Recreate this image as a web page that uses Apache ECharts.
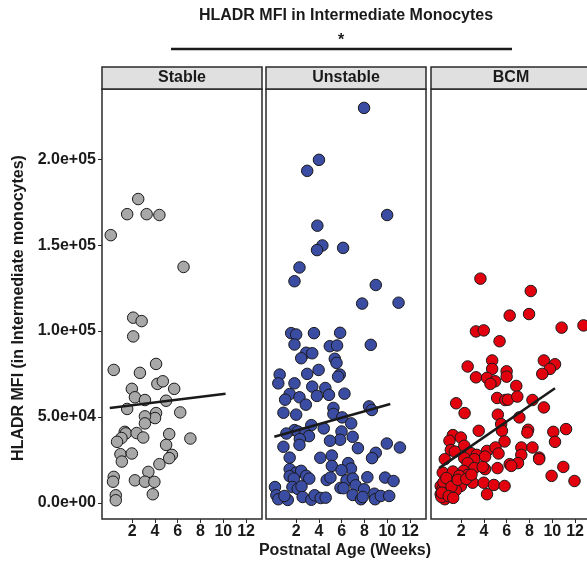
<!DOCTYPE html>
<html>
<head>
<meta charset="utf-8">
<script src="https://cdn.jsdelivr.net/npm/echarts@6/dist/echarts.min.js"></script>
<style>html,body{margin:0;padding:0;background:#fff}#c{width:587px;height:564px}</style>
</head>
<body>
<div id="c"></div>
<script>
// ---- data ----
var panels = ['Stable', 'Unstable', 'BCM'];
var title = 'HLADR MFI in Intermediate Monocytes';
var xTitle = 'Postnatal Age (Weeks)';
var yTitle = 'HLADR MFI (in Intermediate monocytes)';
var xTickValues = [2, 4, 6, 8, 10, 12];
var yTickValues = [0, 50000, 100000, 150000, 200000];
var yTickLabels = ['0.0e+00', '5.0e+04', '1.0e+05', '1.5e+05', '2.0e+05'];

var stableWeeks = [0.12,1.56,2.53,3.27,4.39,6.51,2.09,2.83,2.09,0.38,2.68,4.10,4.21,4.69,5.69,1.97,2.24,3.12,4.98,1.56,6.22,4.10,4.01,3.12,3.12,1.35,1.44,1.06,0.67,2.39,2.97,5.25,7.11,4.98,0.97,1.97,1.09,5.49,5.25,4.39,3.42,0.38,0.32,2.24,3.12,3.95,3.81,0.56,0.56];
var stableMFI = [155800,168000,176800,168000,167500,137300,107800,105800,96900,77400,75700,80900,69300,70800,66400,66400,61500,59900,59500,54700,52700,52300,49400,50400,46300,41400,40500,37800,35600,40700,38100,40100,37500,33800,28400,28800,24100,28000,26100,22600,18100,15200,12400,13200,12400,12300,5100,4500,1600];

var unstableWeeks = [7.96,4.0,2.97,9.99,3.86,4.30,3.83,6.12,2.29,1.85,8.99,7.79,10.99,1.56,2.0,3.56,5.86,1.85,4.95,5.59,8.55,2.88,3.41,2.44,5.39,5.54,3.97,2.97,5.83,5.68,0.55,0.43,1.85,3.41,4.56,4.88,3.82,6.24,1.43,1.03,2.29,2.85,0.88,2.0,5.27,5.27,6.04,8.40,8.64,6.83,3.33,4.42,1.85,1.14,2.14,2.80,3.12,2.32,2.29,5.98,6.96,5.86,4.97,0.88,9.96,11.11,7.42,8.99,8.66,1.43,4.12,5.13,5.13,6.57,6.81,5.98,1.43,2.0,2.44,2.88,3.15,1.43,1.79,4.68,5.01,6.42,6.98,8.25,9.81,10.55,0.14,1.67,2.14,2.47,5.89,6.16,7.22,7.96,0.26,0.43,1.26,0.97,2.57,3.33,3.62,4.15,4.59,6.96,7.69,7.84,8.87,8.93,9.43,10.17];
var unstableMFI = [229800,199600,193200,167500,161300,149800,147100,148400,137000,129000,126800,116000,116500,98800,98000,98800,99000,92200,91200,91600,92000,87400,87100,84200,83900,81500,77400,75100,74700,73500,74700,69600,69600,67700,66900,62900,62300,63600,63400,60100,61500,57200,52500,51400,55300,51800,49800,56200,54100,46300,45300,43400,42400,40400,41600,40700,38900,37200,33800,41600,38500,36800,36200,32700,34600,32300,31900,29200,26100,26400,26300,27600,21600,23200,20000,19100,19700,17700,18700,15800,14200,15600,14200,13400,14800,13200,14200,15000,14800,12800,9300,9300,8200,9700,8800,8600,10300,8000,4500,2200,1800,4100,3500,1900,4500,2900,3100,4700,2200,3500,5400,2200,4100,4100];

var bcmWeeks = [3.69,8.11,6.26,7.96,3.30,3.98,10.82,5.37,4.72,9.26,10.24,9.79,9.12,2.57,4.72,5.99,5.99,3.30,4.27,4.98,4.57,6.84,5.16,5.87,6.11,6.93,8.26,9.26,1.56,2.30,5.22,7.11,5.51,5.58,3.54,7.88,7.81,10.09,11.21,10.24,1.27,0.97,1.97,2.27,5.81,1.09,1.44,2.86,3.36,4.27,5.01,5.28,7.28,8.26,7.28,8.85,0.56,2.27,3.16,4.10,8.85,6.26,6.99,6.40,2.57,3.16,4.10,5.19,3.89,10.97,0.38,1.27,2.21,2.57,1.83,9.94,11.95,3.01,3.98,4.87,5.81,4.27,0.95,1.39,1.97,0.20,0.35,0.80,0.20,0.56,0.27,1.09,1.53,12.74,0.45,0.70,1.15,1.70,2.45,0.30,0.90,1.30,2.90];
var bcmMFI = [130500,123300,109000,109900,99800,100400,102000,94100,82900,82900,80700,78000,75100,79400,78000,76600,73500,73100,72800,70800,69300,68100,61100,59900,60100,61900,59900,55600,58000,52300,51400,49800,45900,42000,42000,42600,41000,41400,43000,35600,39500,36200,38100,33300,35800,30800,29900,29000,28000,30300,32300,28800,32300,32300,28000,26400,25500,26100,25500,27000,25500,22600,23200,21600,23200,20300,19700,20300,21000,21000,17700,18300,18700,16300,15800,15800,12800,11800,11800,10500,9900,5100,12800,11800,9900,9900,8000,7000,5100,2200,3500,8900,7400,103300,12000,14500,9500,13500,14000,6000,4000,3000,16500];

var fitWeeks = [[0.03, 10.2], [0.08, 10.26], [0.06, 10.24]];
var fitMFI = [[55300, 63500], [38500, 57600], [20300, 66700]];

// ---- styling ----
var fillColors = ['#a8a8a8', '#3b4ca3', '#e2000f'];
var FONT = '"Liberation Sans", Arial, sans-serif';
var INK = '#1a1a1a';
var gridLeft = [102, 266, 431];
var gridTop = 89, gridW = 160, gridH = 430;

function zip(a, b) { return a.map(function (v, i) { return [v, b[i]]; }); }
var weeks = [stableWeeks, unstableWeeks, bcmWeeks];
var mfi = [stableMFI, unstableMFI, bcmMFI];

var grids = [], xAxes = [], yAxes = [], series = [], graphics = [];
for (var i = 0; i < 3; i++) {
  grids.push({left: gridLeft[i], top: gridTop, width: gridW, height: gridH, show: true,
    borderColor: '#2a2a2a', borderWidth: 1.5, backgroundColor: '#fff', containLabel: false, outerBoundsMode: 'none'});
  xAxes.push({type: 'value', gridIndex: i, min: -0.65, max: 13.4, position: 'bottom',
    splitLine: {show: false},
    axisLine: {show: false, onZero: false},
    axisTick: {show: true, length: 4, customValues: xTickValues, lineStyle: {color: '#2a2a2a', width: 1}},
    axisLabel: {show: true, customValues: xTickValues, color: INK, fontFamily: FONT, fontWeight: 'bold', fontSize: 16, margin: 5}
  });
  yAxes.push({type: 'value', gridIndex: i, min: -9300, max: 240800, position: 'left',
    splitLine: {show: false},
    axisLine: {show: false, onZero: false},
    axisTick: {show: i === 0, length: 4, customValues: yTickValues, lineStyle: {color: '#2a2a2a', width: 1}},
    axisLabel: {show: i === 0, customValues: yTickValues, color: INK, fontFamily: FONT, fontWeight: 'bold', fontSize: 16, margin: 6,
      formatter: function (v) { var k = yTickValues.indexOf(v); return k >= 0 ? yTickLabels[k] : ''; }}
  });
  series.push({type: 'scatter', xAxisIndex: i, yAxisIndex: i, data: zip(weeks[i], mfi[i]),
    symbolSize: 11.5, itemStyle: {color: fillColors[i], borderColor: '#1a1a1a', borderWidth: 1, opacity: 1}, z: 2});
  series.push({type: 'line', xAxisIndex: i, yAxisIndex: i, data: zip(fitWeeks[i], fitMFI[i]),
    showSymbol: false, symbol: 'none', lineStyle: {color: '#1a1a1a', width: 2.5}, z: 3, silent: true});
  graphics.push({type: 'rect', shape: {x: gridLeft[i], y: 67, width: gridW, height: 22},
    style: {fill: '#e0e0e0', stroke: '#2a2a2a', lineWidth: 1.5}});
  graphics.push({type: 'text', x: gridLeft[i] + gridW / 2, y: 78,
    style: {text: panels[i], fill: INK, font: 'bold 16px ' + FONT, align: 'center', verticalAlign: 'middle'}});
}
graphics.push({type: 'text', x: 346, y: 16, style: {text: title, fill: INK, font: 'bold 16px ' + FONT, align: 'center', verticalAlign: 'middle'}});
graphics.push({type: 'text', x: 341, y: 41, style: {text: '*', fill: INK, font: 'bold 16px ' + FONT, align: 'center', verticalAlign: 'middle'}});
graphics.push({type: 'line', shape: {x1: 171, y1: 49, x2: 512, y2: 49}, style: {stroke: INK, lineWidth: 2.5}});
graphics.push({type: 'text', x: 345, y: 551, style: {text: xTitle, fill: INK, font: 'bold 16px ' + FONT, align: 'center', verticalAlign: 'middle'}});
graphics.push({type: 'text', x: 19, y: 308, rotation: Math.PI / 2,
  style: {text: yTitle, fill: INK, font: 'bold 16px ' + FONT, align: 'center', verticalAlign: 'middle'}});

var chart = echarts.init(document.getElementById('c'), null, {renderer: 'canvas'});
chart.setOption({
  animation: false,
  backgroundColor: '#fff',
  grid: grids, xAxis: xAxes, yAxis: yAxes, series: series,
  graphic: graphics
});
</script>
</body>
</html>
